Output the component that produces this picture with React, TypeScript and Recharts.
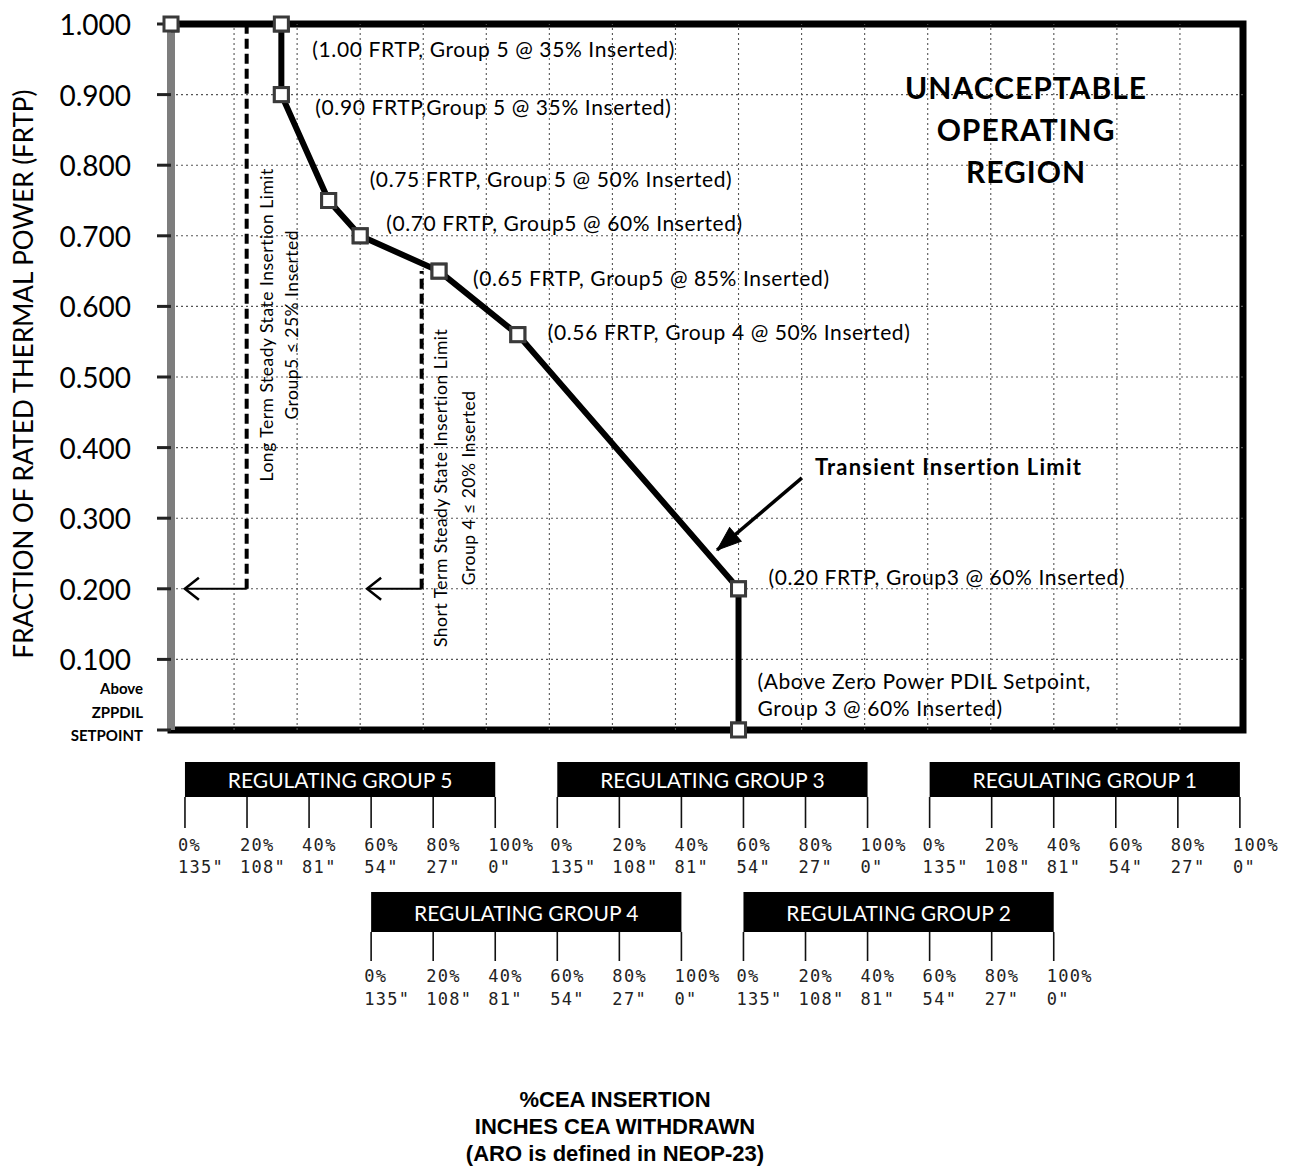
import React from 'react';
import {
  ComposedChart,
  Line,
  XAxis,
  YAxis,
  ReferenceArea,
  ReferenceLine,
  ReferenceDot,
} from 'recharts';

// ---------------- data ----------------
// x position in "% of Group 5 travel" (each following group starts 60% later)
const insertionPosition = [0, 35, 35, 50, 60, 85, 110, 180, 180];
const fractionPower = [1.0, 1.0, 0.9, 0.75, 0.7, 0.65, 0.56, 0.2, 0.0];
const pointNotes = [
  '',
  '(1.00 FRTP, Group 5 @ 35% Inserted)',
  '(0.90 FRTP,Group 5 @ 35% Inserted)',
  '(0.75 FRTP, Group 5 @ 50% Inserted)',
  '(0.70 FRTP, Group5 @ 60% Inserted)',
  '(0.65 FRTP, Group5 @ 85% Inserted)',
  '(0.56 FRTP, Group 4 @ 50% Inserted)',
  '(0.20 FRTP, Group3 @ 60% Inserted)',
  '(Above Zero Power PDIL Setpoint,|Group 3 @ 60% Inserted)',
];

const yTickValues = [0, 0.1, 0.2, 0.3, 0.4, 0.5, 0.6, 0.7, 0.8, 0.9, 1.0];
const zeroTickLines = ['Above', 'ZPPDIL', 'SETPOINT'];
const yAxisTitle = 'FRACTION OF RATED THERMAL POWER (FRTP)';
const xGridValues = [20, 40, 60, 80, 100, 120, 140, 160, 180, 200, 220, 240, 260, 280, 300, 320];

const groupNames = [
  'REGULATING GROUP 5',
  'REGULATING GROUP 4',
  'REGULATING GROUP 3',
  'REGULATING GROUP 2',
  'REGULATING GROUP 1',
];
const groupStarts = [0, 60, 120, 180, 240];
const groupRows = [0, 1, 0, 1, 0];
const pctLabels = ['0%', '20%', '40%', '60%', '80%', '100%'];
const inchLabels = ['135"', '108"', '81"', '54"', '27"', '0"'];
const groupTickValues = [0, 20, 40, 60, 80, 100, 120, 140, 160, 180, 200, 220, 240, 260, 280, 300, 320, 340];

const longTermLimit = 24;
const longTermArrowTip = 4.4;
const shortTermLimit = 79.5;
const shortTermArrowTip = 62.2;
const limitPower = 0.2;
const shortTermTopPower = 0.65;
const longTermText = ['Long Term Steady State Insertion Limit', 'Group5  \u2264 25% Inserted'];
const shortTermText = ['Short Term Steady State Insertion Limit', 'Group 4 \u2264  20% Inserted'];
const regionText = ['UNACCEPTABLE', 'OPERATING', 'REGION'];
const transientText = 'Transient Insertion Limit';
const transientArrowStart = { x: 200.1, y: 0.357 };
const transientArrowTip = { x: 173.2, y: 0.255 };
const bottomTitle = ['%CEA INSERTION', 'INCHES CEA WITHDRAWN', '(ARO is defined in NEOP-23)'];

const curve = insertionPosition.map((pos, i) => ({ pos, frtp: fractionPower[i] }));

// ---------------- layout / style ----------------
const SANS = 'Lato, "Open Sans", sans-serif';
const MONO = '"DejaVu Sans Mono", monospace';
const ARIAL = '"Liberation Sans", Arial, sans-serif';
const PLOT_H = 706;
const noteOffsets: Array<[number, number]> = [
  [0, 0],
  [31, 24],
  [34, 12],
  [41, -22],
  [26, -13],
  [34, 6],
  [30, -3],
  [30, -12],
  [19, -50],
];
const ROWS = [
  { barTop: 32, barBottom: 67, markTop: 67, markBottom: 98, pctY: 115, inchY: 137 },
  { barTop: 162, barBottom: 202, markTop: 202, markBottom: 231, pctY: 246, inchY: 269 },
];
const pxToValue = (px: number) => -px / PLOT_H;

const Square = (p: any) => {
  const { cx, cy, index } = p;
  if (cx == null || cy == null) return <g key={index} />;
  return (
    <rect key={index} x={cx - 7} y={cy - 7} width={14} height={14} fill="#fff" stroke="#3a3a3a" strokeWidth={3} />
  );
};

const YTick = (p: any) => {
  const { x, y, payload } = p;
  const v = payload.value;
  if (v === 0) {
    return (
      <g>
        {zeroTickLines.map((t, i) => (
          <text
            key={t}
            x={x + 12}
            y={y - 42 + i * 23.5}
            textAnchor="end"
            dominantBaseline="central"
            fontFamily={SANS}
            fontWeight={700}
            fontSize={15}
            fill="#000"
          >
            {t}
          </text>
        ))}
      </g>
    );
  }
  return (
    <text x={x} y={y} textAnchor="end" dominantBaseline="central" fontFamily={SANS} fontSize={28} fill="#000">
      {v.toFixed(3)}
    </text>
  );
};

const GroupTick = (p: any) => {
  const { x, y, payload } = p;
  const u = payload.value;
  const items: any[] = [];
  groupStarts.forEach((s, g) => {
    const rel = u - s;
    if (rel < 0 || rel > 100 || rel % 20 !== 0) return;
    const k = rel / 20;
    const r = ROWS[groupRows[g]];
    items.push(
      <g key={g}>
        <line x1={x} x2={x} y1={y + r.markTop} y2={y + r.markBottom} stroke="#111" strokeWidth={1.6} />
        <text x={x - 7} y={y + r.pctY} dominantBaseline="central" fontFamily={MONO} fontSize={17} letterSpacing={1.3} fill="#222">
          {pctLabels[k]}
        </text>
        <text x={x - 7} y={y + r.inchY} dominantBaseline="central" fontFamily={MONO} fontSize={17} letterSpacing={1.3} fill="#222">
          {inchLabels[k]}
        </text>
      </g>
    );
  });
  return <g>{items}</g>;
};

const yLabel = (p: any) => {
  const vb = p.viewBox || { x: 0, y: 24, width: 171, height: PLOT_H };
  const cx = vb.x + 23;
  const cy = vb.y + vb.height / 2 - 3;
  return (
    <text
      x={cx}
      y={cy}
      transform={`rotate(-90 ${cx} ${cy})`}
      textAnchor="middle"
      dominantBaseline="central"
      fontFamily={SANS}
      fontSize={26}
      fill="#000"
    >
      {yAxisTitle}
    </text>
  );
};

const titleLabel = (p: any) => {
  const vb = p.viewBox || { x: 171, y: 730, width: 1072, height: 30 };
  return (
    <g>
      {bottomTitle.map((t, i) => (
        <text
          key={t}
          x={vb.x + 444}
          y={vb.y + 369 + i * 27}
          textAnchor="middle"
          dominantBaseline="central"
          fontFamily={ARIAL}
          fontWeight={700}
          fontSize={22}
          fill="#000"
        >
          {t}
        </text>
      ))}
    </g>
  );
};

const barLabel = (name: string) => (p: any) => {
  const vb = p.viewBox;
  if (!vb) return null;
  return (
    <text
      x={vb.x + vb.width / 2}
      y={vb.y + vb.height / 2}
      textAnchor="middle"
      dominantBaseline="central"
      fontFamily={SANS}
      fontSize={21}
      fill="#fff"
    >
      {name}
    </text>
  );
};

const noteShape = (i: number) => (p: any) => {
  const { cx, cy } = p;
  const [dx, dy] = noteOffsets[i];
  const lines = pointNotes[i].split('|');
  return (
    <g>
      {lines.map((t, k) => (
        <text
          key={k}
          x={cx + dx}
          y={cy + dy + k * 27}
          dominantBaseline="central"
          fontFamily={SANS}
          fontSize={21}
          letterSpacing={0.6}
          fill="#000"
        >
          {t}
        </text>
      ))}
    </g>
  );
};

const rotatedShape = (lines: string[], offsets: number[]) => (p: any) => {
  const { cx, cy } = p;
  return (
    <g>
      {lines.map((t, k) => {
        const tx = cx + offsets[k];
        return (
          <text
            key={k}
            x={tx}
            y={cy}
            transform={`rotate(-90 ${tx} ${cy})`}
            textAnchor="middle"
            dominantBaseline="central"
            fontFamily={SANS}
            fontSize={17.5}
            letterSpacing={0.5}
            fill="#000"
          >
            {t}
          </text>
        );
      })}
    </g>
  );
};

const chevron = (p: any) => {
  const { cx, cy } = p;
  return (
    <path d={`M ${cx + 14} ${cy - 11} L ${cx} ${cy} L ${cx + 14} ${cy + 11}`} fill="none" stroke="#000" strokeWidth={2.5} />
  );
};

const triangleHead = (p: any) => {
  const { cx, cy } = p;
  return (
    <path d="M 0 0 L -24 -9 L -24 9 Z" transform={`translate(${cx} ${cy}) rotate(139.7)`} fill="#000" stroke="#000" strokeWidth={1} />
  );
};

const regionShape = (p: any) => {
  const { cx, cy } = p;
  return (
    <g>
      {regionText.map((t, k) => (
        <text
          key={t}
          x={cx}
          y={cy + (k - 1) * 42}
          textAnchor="middle"
          dominantBaseline="central"
          fontFamily={SANS}
          fontWeight={700}
          fontSize={30}
          letterSpacing={1}
          fill="#000"
        >
          {t}
        </text>
      ))}
    </g>
  );
};

const transientShape = (p: any) => {
  const { cx, cy } = p;
  return (
    <text
      x={cx + 13}
      y={cy - 11}
      dominantBaseline="central"
      fontFamily={SANS}
      fontWeight={700}
      fontSize={22}
      letterSpacing={1.2}
      fill="#000"
    >
      {transientText}
    </text>
  );
};

const gridStyle = { stroke: '#555', strokeWidth: 1.1, strokeDasharray: '2 3' };

export default function App() {
  return (
    <div style={{ position: 'absolute', left: 0, top: 0, width: 1308, height: 1173, background: '#fff' }}>
      <ComposedChart width={1308} height={1173} data={curve} margin={{ top: 24, right: 65, bottom: 413, left: 0 }}>
        <XAxis dataKey="pos" type="number" domain={[0, 340]} allowDataOverflow hide height={0} />
        <XAxis
          xAxisId="groups"
          dataKey="pos"
          type="number"
          domain={[-4.5, 341]}
          allowDataOverflow
          ticks={groupTickValues}
          interval={0}
          tick={GroupTick}
          tickLine={false}
          axisLine={false}
          tickSize={0}
          tickMargin={0}
          height={30}
          label={titleLabel}
        />
        <YAxis
          type="number"
          domain={[0, 1]}
          allowDataOverflow
          ticks={yTickValues}
          interval={0}
          width={171}
          tick={YTick}
          tickSize={14}
          tickMargin={26}
          tickLine={{ stroke: '#222', strokeWidth: 3 }}
          axisLine={false}
          label={yLabel}
        />

        {xGridValues.map((v) => (
          <ReferenceLine key={'gx' + v} x={v} {...gridStyle} />
        ))}
        {yTickValues
          .filter((v) => v > 0 && v < 1)
          .map((v) => (
            <ReferenceLine key={'gy' + v} y={v} {...gridStyle} />
          ))}

        <ReferenceArea x1={0} x2={340} y1={0} y2={1} fill="none" stroke="#000" strokeWidth={7} ifOverflow="visible" />
        <ReferenceLine x={0} stroke="#7d7d7d" strokeWidth={8} ifOverflow="visible" />

        {groupNames.map((name, g) => {
          const r = ROWS[groupRows[g]];
          return (
            <ReferenceArea
              key={name}
              xAxisId="groups"
              x1={groupStarts[g]}
              x2={groupStarts[g] + 100}
              y1={pxToValue(r.barBottom)}
              y2={pxToValue(r.barTop)}
              fill="#000"
              fillOpacity={1}
              stroke="none"
              ifOverflow="visible"
              label={barLabel(name)}
            />
          );
        })}

        <ReferenceLine
          segment={[
            { x: longTermLimit, y: limitPower },
            { x: longTermLimit, y: 1 },
          ]}
          stroke="#000"
          strokeWidth={4}
          strokeDasharray="10 5"
        />
        <ReferenceLine
          segment={[
            { x: longTermLimit, y: limitPower },
            { x: longTermArrowTip, y: limitPower },
          ]}
          stroke="#000"
          strokeWidth={2}
        />
        <ReferenceDot x={longTermArrowTip} y={limitPower} r={0} shape={chevron} ifOverflow="visible" />
        <ReferenceLine
          segment={[
            { x: shortTermLimit, y: limitPower },
            { x: shortTermLimit, y: shortTermTopPower },
          ]}
          stroke="#000"
          strokeWidth={4}
          strokeDasharray="10 5"
        />
        <ReferenceLine
          segment={[
            { x: shortTermLimit, y: limitPower },
            { x: shortTermArrowTip, y: limitPower },
          ]}
          stroke="#000"
          strokeWidth={2}
        />
        <ReferenceDot x={shortTermArrowTip} y={limitPower} r={0} shape={chevron} ifOverflow="visible" />

        <ReferenceLine segment={[transientArrowStart, transientArrowTip]} stroke="#000" strokeWidth={3.5} />
        <ReferenceDot x={transientArrowTip.x} y={transientArrowTip.y} r={0} shape={triangleHead} ifOverflow="visible" />
        <ReferenceDot x={transientArrowStart.x} y={transientArrowStart.y} r={0} shape={transientShape} ifOverflow="visible" />

        <ReferenceDot x={longTermLimit} y={0.574} r={0} shape={rotatedShape(longTermText, [20, 45])} ifOverflow="visible" />
        <ReferenceDot x={shortTermLimit} y={0.343} r={0} shape={rotatedShape(shortTermText, [19, 47])} ifOverflow="visible" />
        <ReferenceDot x={271.2} y={0.851} r={0} shape={regionShape} ifOverflow="visible" />

        <Line
          dataKey="frtp"
          type="linear"
          stroke="#000"
          strokeWidth={6}
          dot={Square}
          activeDot={false}
          isAnimationActive={false}
        />

        {curve.map((pt, i) => (
          <ReferenceDot
            key={'m' + i}
            x={pt.pos}
            y={pt.frtp}
            r={0}
            shape={(p: any) => Square({ ...p, index: i })}
            ifOverflow="visible"
          />
        ))}

        {pointNotes.map((t, i) =>
          t ? (
            <ReferenceDot
              key={'n' + i}
              x={insertionPosition[i]}
              y={fractionPower[i]}
              r={0}
              shape={noteShape(i)}
              ifOverflow="visible"
            />
          ) : null
        )}
      </ComposedChart>
    </div>
  );
}
